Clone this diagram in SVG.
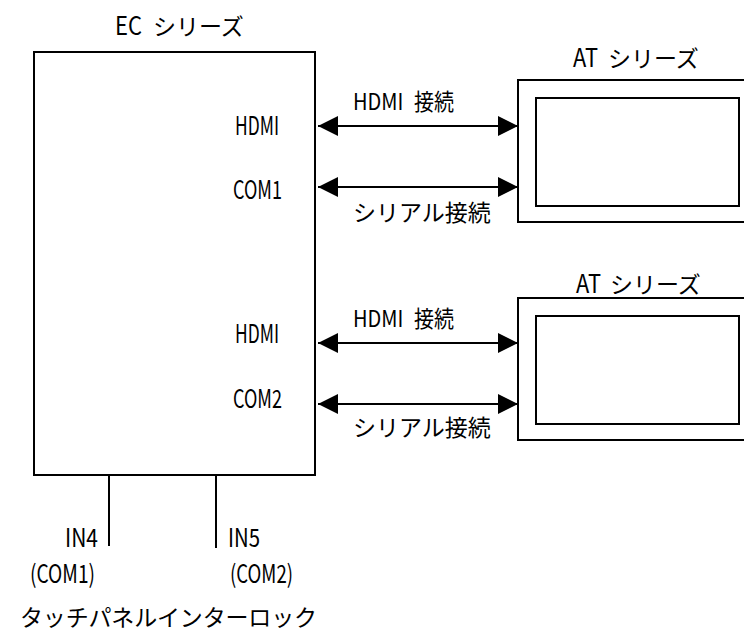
<svg xmlns="http://www.w3.org/2000/svg" width="744" height="636" viewBox="0 0 744 636">
<style>
.box{fill:#fff;stroke:#000;stroke-width:2}
.ln{fill:none;stroke:#000;stroke-width:2}
.t{font-family:"Noto Sans CJK JP","Noto Sans CJK SC",sans-serif;font-size:23px;fill:#000}
.l{font-size:25px}
.ws{word-spacing:7px}
</style>
<defs>
<marker id="ah" viewBox="0 0 20 20" refX="20" refY="10" markerWidth="20" markerHeight="20" markerUnits="userSpaceOnUse" orient="auto-start-reverse">
<path d="M0,0 L20,10 L0,20 z" fill="#000"/>
</marker>
</defs>
<rect width="744" height="636" fill="#fff"/>
<g id="ec">
<rect class="box" x="34" y="52" width="281" height="423"/>
<text class="t" x="115" y="35"><tspan class="l" textLength="27" lengthAdjust="spacingAndGlyphs">EC</tspan> <tspan x="153">シリーズ</tspan></text>
<text class="t l" x="235" y="135" textLength="44" lengthAdjust="spacingAndGlyphs">HDMI</text>
<text class="t l" x="233" y="199" textLength="49" lengthAdjust="spacingAndGlyphs">COM1</text>
<text class="t l" x="235" y="343" textLength="44" lengthAdjust="spacingAndGlyphs">HDMI</text>
<text class="t l" x="233" y="408" textLength="49" lengthAdjust="spacingAndGlyphs">COM2</text>
</g>
<g id="at1">
<rect class="box" x="518" y="80" width="250" height="142"/>
<rect class="box" x="536" y="98" width="203" height="108"/>
<text class="t" x="573" y="67"><tspan class="l" textLength="25" lengthAdjust="spacingAndGlyphs">AT</tspan> <tspan x="608">シリーズ</tspan></text>
</g>
<g id="at2">
<rect class="box" x="518" y="298" width="250" height="142"/>
<rect class="box" x="536" y="316" width="203" height="108"/>
<text class="t" x="576" y="293"><tspan class="l" textLength="25" lengthAdjust="spacingAndGlyphs">AT</tspan> <tspan x="610">シリーズ</tspan></text>
</g>
<g id="connectors">
<line class="ln" x1="318" y1="126" x2="518" y2="126" marker-start="url(#ah)" marker-end="url(#ah)"/>
<line class="ln" x1="318" y1="187" x2="518" y2="187" marker-start="url(#ah)" marker-end="url(#ah)"/>
<line class="ln" x1="318" y1="343" x2="518" y2="343" marker-start="url(#ah)" marker-end="url(#ah)"/>
<line class="ln" x1="318" y1="404" x2="518" y2="404" marker-start="url(#ah)" marker-end="url(#ah)"/>
<line class="ln" x1="109" y1="475" x2="109" y2="546"/>
<line class="ln" x1="216" y1="475" x2="216" y2="548"/>
</g>
<g id="labels">
<text class="t ws" x="353" y="110" textLength="101" lengthAdjust="spacingAndGlyphs">HDMI 接続</text>
<text class="t" x="353" y="221">シリアル接続</text>
<text class="t ws" x="353" y="327" textLength="101" lengthAdjust="spacingAndGlyphs">HDMI 接続</text>
<text class="t" x="353" y="436">シリアル接続</text>
<text class="t l" x="65" y="547" textLength="33" lengthAdjust="spacingAndGlyphs">IN4</text>
<text class="t l" x="228" y="547" textLength="32" lengthAdjust="spacingAndGlyphs">IN5</text>
<text class="t l" x="30" y="583" textLength="65" lengthAdjust="spacingAndGlyphs">(COM1)</text>
<text class="t l" x="230" y="583" textLength="63" lengthAdjust="spacingAndGlyphs">(COM2)</text>
<text class="t" x="20" y="626" textLength="297" lengthAdjust="spacing">タッチパネルインターロック</text>
</g>
</svg>
